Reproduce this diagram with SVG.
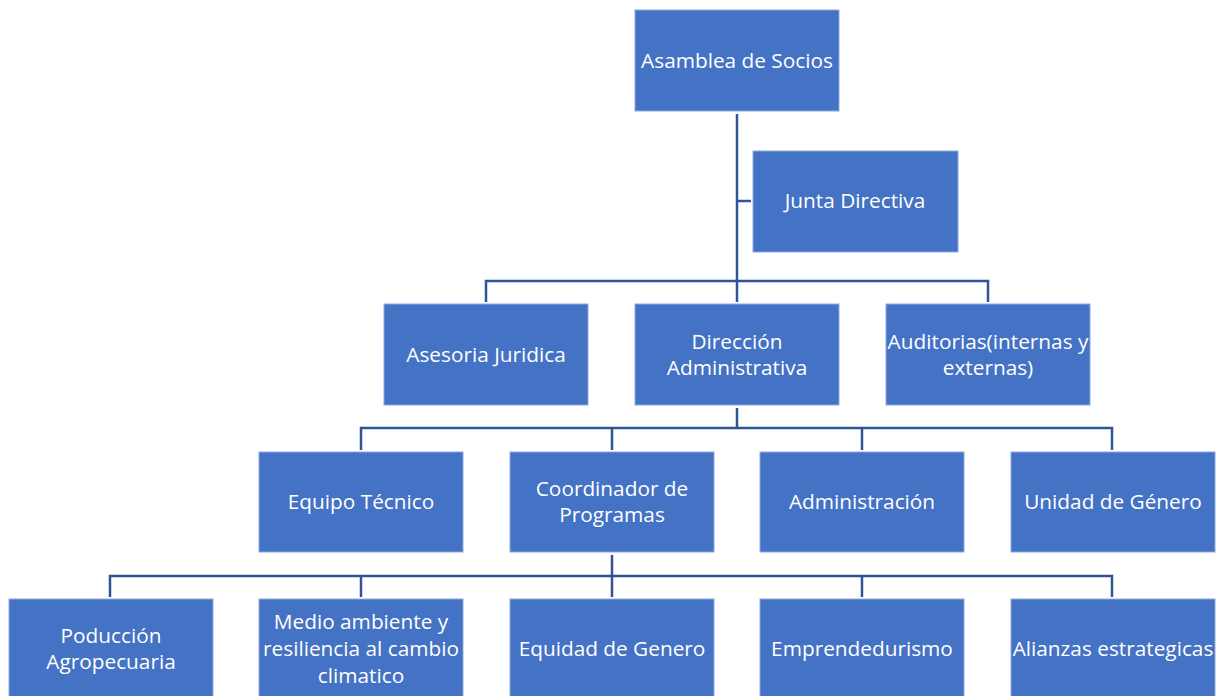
<svg xmlns="http://www.w3.org/2000/svg" width="1218" height="696" viewBox="0 0 1218 696">
<style>
.box{fill:#4472C4;stroke:#8FAADC;stroke-width:1}
.t{font-family:"Open Sans","Noto Sans",sans-serif;font-size:20.8px;fill:#FFFFFF;text-anchor:middle}
.c{fill:none;stroke:#2F5597;stroke-width:2.5}
</style>
<rect width="1218" height="696" fill="#FFFFFF"/>
<g id="connectors">
<path class="c" d="M737,114 V302"/>
<path class="c" d="M737,201 H751"/>
<path class="c" d="M486,302 V281 H988 V302"/>
<path class="c" d="M737,408 V428"/>
<path class="c" d="M361,450 V428 H1112 V450"/>
<path class="c" d="M612,428 V450"/>
<path class="c" d="M862,428 V450"/>
<path class="c" d="M612,555 V597"/>
<path class="c" d="M110,597 V576 H1112 V597"/>
<path class="c" d="M361,576 V597"/>
<path class="c" d="M862,576 V597"/>
</g>
<g id="asamblea"><rect class="box" x="635" y="10" width="204" height="101"/><text class="t" x="737" y="68">Asamblea de Socios</text></g>
<g id="junta"><rect class="box" x="753" y="151" width="205" height="101"/><text class="t" x="855" y="208">Junta Directiva</text></g>
<g id="asesoria"><rect class="box" x="384" y="304" width="204" height="101"/><text class="t" x="486" y="362">Asesoria Juridica</text></g>
<g id="direccion"><rect class="box" x="635" y="304" width="204" height="101"/><text class="t" x="737" y="349">Dirección</text><text class="t" x="737" y="375">Administrativa</text></g>
<g id="auditorias"><rect class="box" x="886" y="304" width="204" height="101"/><text class="t" x="988" y="349">Auditorias(internas y</text><text class="t" x="988" y="375">externas)</text></g>
<g id="equipo"><rect class="box" x="259" y="452" width="204" height="100"/><text class="t" x="361" y="509">Equipo Técnico</text></g>
<g id="coordinador"><rect class="box" x="510" y="452" width="204" height="100"/><text class="t" x="612" y="496">Coordinador de</text><text class="t" x="612" y="522">Programas</text></g>
<g id="administracion"><rect class="box" x="760" y="452" width="204" height="100"/><text class="t" x="862" y="509">Administración</text></g>
<g id="genero"><rect class="box" x="1011" y="452" width="204" height="100"/><text class="t" x="1113" y="509">Unidad de Género</text></g>
<g id="produccion"><rect class="box" x="9" y="599" width="204" height="100"/><text class="t" x="111" y="643">Poducción</text><text class="t" x="111" y="669">Agropecuaria</text></g>
<g id="medio"><rect class="box" x="259" y="599" width="204" height="100"/><text class="t" x="361" y="629">Medio ambiente y</text><text class="t" x="361" y="656">resiliencia al cambio</text><text class="t" x="361" y="683">climatico</text></g>
<g id="equidad"><rect class="box" x="510" y="599" width="204" height="100"/><text class="t" x="612" y="656">Equidad de Genero</text></g>
<g id="emprende"><rect class="box" x="760" y="599" width="204" height="100"/><text class="t" x="862" y="656">Emprendedurismo</text></g>
<g id="alianzas"><rect class="box" x="1011" y="599" width="204" height="100"/><text class="t" x="1113" y="656">Alianzas estrategicas</text></g>
</svg>
